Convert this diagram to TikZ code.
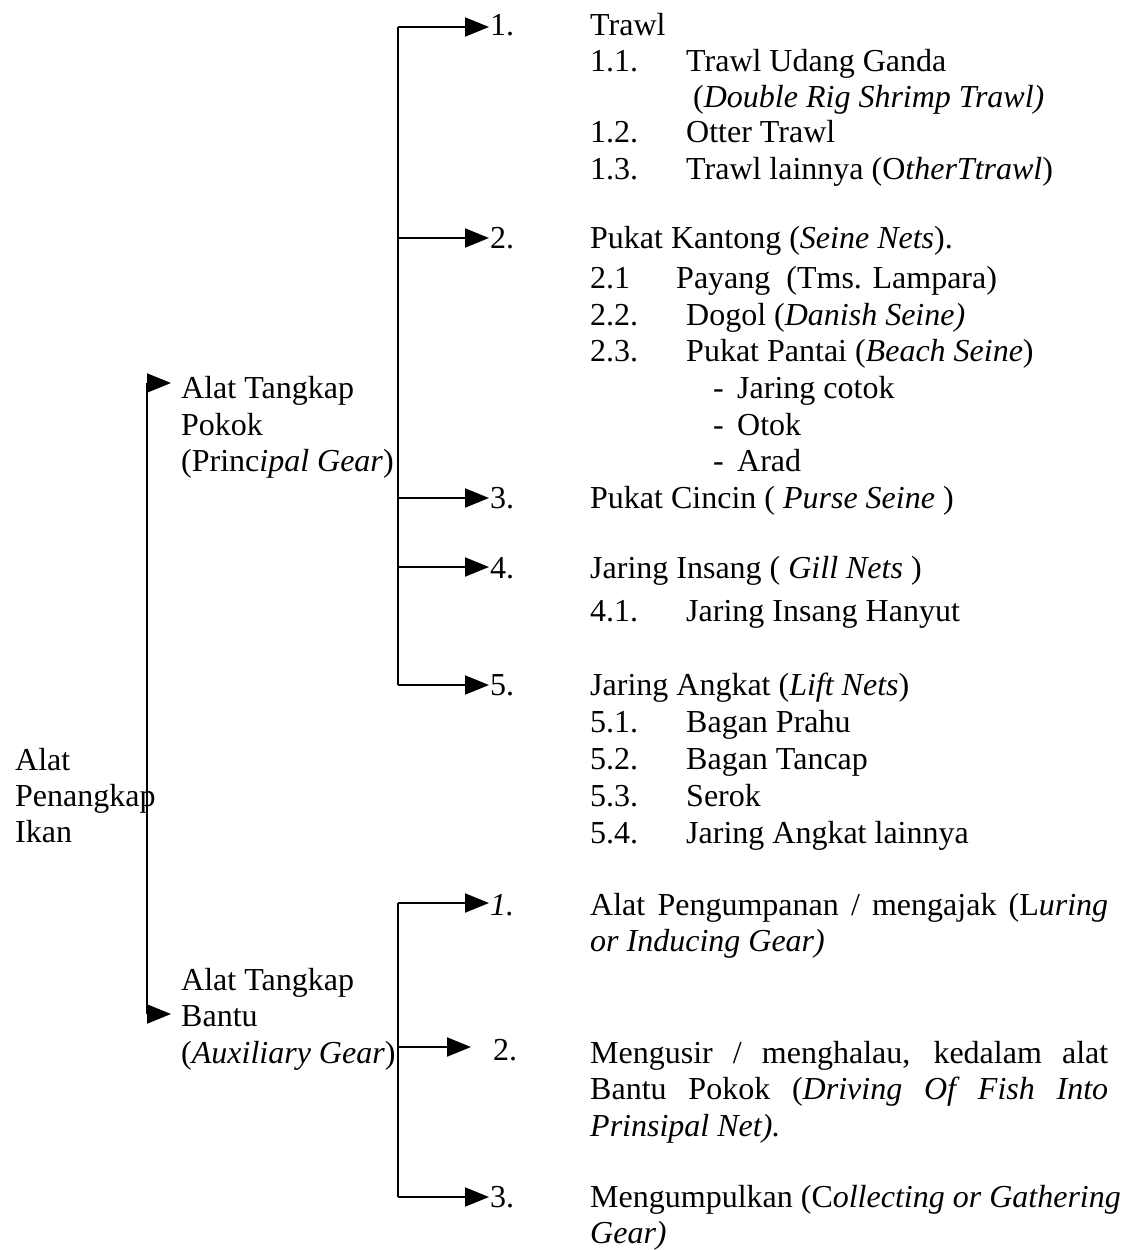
\documentclass[tikz,border=0pt]{standalone}
\usepackage{fontspec}
\setmainfont{Liberation Serif}
\usetikzlibrary{arrows.meta,positioning}
\tikzset{>={Triangle[length=24pt,width=19pt]}}
\tikzset{
  txt/.style={anchor=base west, inner sep=0pt, font=\fontsize{32}{36}\selectfont},
  link/.style={->, line width=2pt, shorten >=1pt},
  spine/.style={line width=2pt},
}

\begin{document}
\begin{tikzpicture}[x=1pt,y=-1pt]
    \useasboundingbox (0,0) rectangle (1129,1250);
    % root and the two main groups
    \node[txt] (rootA) at (15,770) {Alat};
    \node[txt] (rootB) at (15,806) {Penangkap};
    \node[txt] (rootC) at (15,842) {Ikan};
    \node[txt] (pokA) at (181,398) {Alat Tangkap};
    \node[txt] (pokB) at (181,435) {Pokok};
    \node[txt] (pokC) at (181,471) {(Princ\textit{ipal Gear})};
    \node[txt] (banA) at (181,990) {Alat Tangkap};
    \node[txt] (banB) at (181,1026) {Bantu};
    \node[txt] (banC) at (181,1063) {(\textit{Auxiliary Gear})};
    % spines
    \coordinate (rootT) at (147,383);
    \coordinate (rootD) at (147,1014);
    \coordinate (pokT) at (398,27);
    \coordinate (pokD) at (398,685);
    \coordinate (banT) at (398,903);
    \coordinate (banD) at (398,1197);
    \draw[spine] (rootT) -- (rootD);
    \draw[spine] (pokT) -- (pokD);
    \draw[spine] (banT) -- (banD);
    \draw[link, shorten >=10pt] (rootT) -- (rootT -| pokA.west);
    \draw[link, shorten >=10pt] (rootD) -- (rootD -| banA.west);

    % principal gear items
    \node[txt] (p1) at (490,35) {1.};
    \node[txt] (p2) at (490,248) {2.};
    \node[txt] (p3) at (490,508) {3.};
    \node[txt] (p4) at (490,578) {4.};
    \node[txt] (p5) at (490,695) {5.};
    \foreach \i/\y in {1/27,2/238,3/498,4/567,5/685}
        \draw[link] (398,\y) coordinate (pj\i) -- (pj\i -| p\i.west);

    \node[txt] (t1) at (590,35) {Trawl};
    \node[txt] (t11n) at (590,71) {1.1.};
    \node[txt] (t11) at (686,71) {Trawl Udang Ganda};
    \node[txt] (t11e) at (693,107) {(\textit{Double Rig Shrimp Trawl)}};
    \node[txt] (t12n) at (590,142) {1.2.};
    \node[txt] (t12) at (686,142) {Otter Trawl};
    \node[txt] (t13n) at (590,179) {1.3.};
    \node[txt] (t13) at (686,179) {Trawl lainnya (O\textit{therTtrawl})};

    \node[txt] (t2) at (590,248) {Pukat Kantong (\textit{Seine Nets}).};
    \node[txt] (t21n) at (590,288) {2.1};
    \node[txt] (t21) at (676,288) {Payang\ \ (Tms. Lampara)};
    \node[txt] (t22n) at (590,325) {2.2.};
    \node[txt] (t22) at (686,325) {Dogol (\textit{Danish Seine)}};
    \node[txt] (t23n) at (590,361) {2.3.};
    \node[txt] (t23) at (686,361) {Pukat Pantai (\textit{Beach Seine})};
    \foreach \j/\t/\y in {a/Jaring cotok/398,b/Otok/435,c/Arad/471} {
        \node[txt] (d\j) at (713,\y) {-};
        \node[txt] (t23\j) at (737,\y) {\t};
    }

    \node[txt] (t3) at (590,508) {Pukat Cincin ( \textit{Purse Seine} )};
    \node[txt] (t4) at (590,578) {Jaring Insang ( \textit{Gill Nets} )};
    \node[txt] (t41n) at (590,621) {4.1.};
    \node[txt] (t41) at (686,621) {Jaring Insang Hanyut};

    \node[txt] (t5) at (590,695) {Jaring Angkat (\textit{Lift Nets})};
    \foreach \k/\t/\y in {1/Bagan Prahu/732,2/Bagan Tancap/769,3/Serok/806,4/Jaring Angkat lainnya/843} {
        \node[txt] (t5\k n) at (590,\y) {5.\k.};
        \node[txt] (t5\k) at (686,\y) {\t};
    }

    % auxiliary gear items
    \node[txt] (b1) at (490,915) {\textit{1.}};
    \node[txt] (b2) at (493,1060) {2.};
    \node[txt] (b3) at (490,1207) {3.};
    \draw[link] (banT) -- (banT -| b1.west);
    \draw[link, shorten >=22pt] (398,1047) coordinate (bj2) -- (bj2 -| b2.west);
    \draw[link] (banD) -- (banD -| b3.west);

    \node[txt] (u1a) at (590,915) {\makebox[518pt][s]{Alat Pengumpanan / mengajak (L\textit{uring}}};
    \node[txt] (u1b) at (590,951) {\textit{or Inducing Gear)}};
    \node[txt] (u2a) at (590,1063) {\makebox[518pt][s]{Mengusir / menghalau, kedalam alat}};
    \node[txt] (u2b) at (590,1099) {\makebox[518pt][s]{Bantu Pokok (\textit{Driving Of Fish Into}}};
    \node[txt] (u2c) at (590,1136) {\textit{Prinsipal Net).}};
    \node[txt] (u3a) at (590,1207) {Mengumpulkan (C\textit{ollecting or Gathering}};
    \node[txt] (u3b) at (590,1243) {\textit{Gear)}};
\end{tikzpicture}
\end{document}
